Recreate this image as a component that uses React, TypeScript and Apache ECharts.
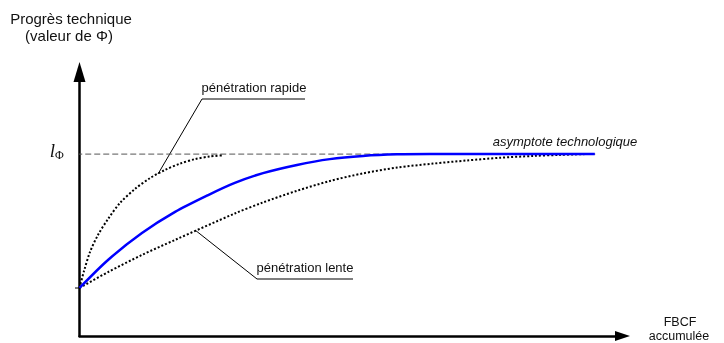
import React, { useEffect, useRef } from 'react';
import * as echarts from 'echarts';

// Conceptual diagram: x = accumulated FBCF (0..100), y = technical progress (0..100)
const referenceCurve: [number, number][] = [
  [0, 18.2], [5.25, 28.8], [11.5, 39.0], [17.6, 47.0], [23.7, 53.4], [28.6, 58.0],
  [33.8, 61.7], [40.05, 64.8], [46.1, 67.0], [52.2, 68.2], [58.5, 68.8], [64.5, 68.9], [94.9, 68.9],
];
const fastCurve: [number, number][] = [
  [0, 18.2], [0.83, 24.6], [1.93, 31.8], [3.41, 38.3], [5.25, 44.3], [7.46, 50.4],
  [10.22, 55.7], [12.98, 59.8], [15.75, 62.9], [18.51, 65.3], [21.27, 67.0], [24.03, 68.0], [26.24, 68.4],
];
const slowCurve: [number, number][] = [
  [0, 18.2], [5.25, 24.2], [11.5, 30.7], [17.6, 36.4], [28.6, 46.4], [33.8, 50.6],
  [40.05, 55.0], [46.1, 58.7], [52.2, 61.6], [58.5, 63.8], [65.1, 65.3], [71.4, 66.5],
  [77.4, 67.5], [83.5, 68.2], [88.5, 68.6], [93.1, 68.9],
];
const asymptoteLevel = 68.9;
const asymptoteSpan = [-0.6, 95.5];
const xRange = [0, 100];
const yRange = [0, 100];
const yTitle = ['Progrès technique', '(valeur de Φ)'];
const xTitle = ['FBCF', 'accumulée'];
const rapidLabel = 'pénétration rapide';
const slowLabel = 'pénétration lente';
const asymptoteLabel = 'asymptote technologique';
const limitSymbol = 'l';
const limitSub = 'Φ';

export default function App() {
  const ref = useRef<HTMLDivElement>(null);
  useEffect(() => {
    const chart = echarts.init(ref.current!, null, { renderer: 'svg' });
    const sans = '"Liberation Sans", Arial, sans-serif';
    const serif = '"Liberation Serif", "Times New Roman", serif';
    const axisCommon = {
      type: 'value',
      axisTick: { show: false },
      axisLabel: { show: false },
      splitLine: { show: false },
    };
    const curve = (data: [number, number][], lineStyle: any, z: number) => ({
      type: 'line',
      data,
      smooth: 0.3,
      symbol: 'none',
      silent: true,
      lineStyle,
      z,
    });
    chart.setOption({
      animation: false,
      grid: { left: 79.5, right: 101.5, top: 72, bottom: 7, containLabel: false },
      xAxis: {
        ...axisCommon,
        min: xRange[0],
        max: xRange[1],
        axisLine: {
          show: true,
          onZero: false,
          symbol: ['none', 'triangle'],
          symbolSize: [10, 15],
          lineStyle: { color: '#000', width: 2.5 },
        },
      },
      yAxis: {
        ...axisCommon,
        min: yRange[0],
        max: yRange[1],
        axisLine: {
          show: true,
          onZero: false,
          symbol: ['none', 'triangle'],
          symbolSize: [12, 20],
          lineStyle: { color: '#000', width: 2.5 },
        },
      },
      series: [
        {
          type: 'line',
          data: asymptoteSpan.map((x) => [x, asymptoteLevel]),
          symbol: 'none',
          clip: false,
          silent: true,
          lineStyle: { color: '#555', width: 1, type: [6, 3] },
          z: 1,
        },
        curve(slowCurve, { color: '#000', width: 2, type: [2, 2] }, 2),
        curve(fastCurve, { color: '#000', width: 2, type: [2, 2] }, 2),
        curve(referenceCurve, { color: '#0000ff', width: 2.5 }, 3),
      ],
      graphic: [
        { type: 'text', x: 71, y: 18, style: { text: yTitle[0], font: `15px ${sans}`, fill: '#111', align: 'center', verticalAlign: 'middle' } },
        { type: 'text', x: 69, y: 35, style: { text: yTitle[1], font: `15px ${sans}`, fill: '#111', align: 'center', verticalAlign: 'middle' } },
        { type: 'text', x: 680, y: 322, style: { text: xTitle[0], font: `12.5px ${sans}`, fill: '#111', align: 'center', verticalAlign: 'middle' } },
        { type: 'text', x: 679, y: 335.5, style: { text: xTitle[1], font: `12.5px ${sans}`, fill: '#111', align: 'center', verticalAlign: 'middle' } },
        { type: 'text', x: 55, y: 150, style: { text: limitSymbol, font: `italic 19px ${serif}`, fill: '#111', align: 'right', verticalAlign: 'middle' } },
        { type: 'text', x: 55, y: 155, style: { text: limitSub, font: `12px ${serif}`, fill: '#111', align: 'left', verticalAlign: 'middle' } },
        { type: 'line', shape: { x1: 75, y1: 288, x2: 79, y2: 288 }, style: { stroke: '#000', lineWidth: 1 } },
        { type: 'text', x: 565, y: 141, style: { text: asymptoteLabel, font: `italic 13px ${sans}`, fill: '#111', align: 'center', verticalAlign: 'middle' } },
        { type: 'text', x: 254, y: 87, style: { text: rapidLabel, font: `13px ${sans}`, fill: '#111', align: 'center', verticalAlign: 'middle' } },
        { type: 'line', shape: { x1: 202, y1: 99, x2: 305, y2: 99 }, style: { stroke: '#000', lineWidth: 1 } },
        { type: 'line', shape: { x1: 202, y1: 99, x2: 158, y2: 174 }, style: { stroke: '#000', lineWidth: 1 } },
        { type: 'text', x: 305, y: 267, style: { text: slowLabel, font: `13px ${sans}`, fill: '#111', align: 'center', verticalAlign: 'middle' } },
        { type: 'line', shape: { x1: 195, y1: 230, x2: 257, y2: 279 }, style: { stroke: '#000', lineWidth: 1 } },
        { type: 'line', shape: { x1: 257, y1: 279, x2: 353, y2: 279 }, style: { stroke: '#555', lineWidth: 1.5 } },
      ],
    });
    return () => chart.dispose();
  }, []);
  return <div ref={ref} style={{ position: 'fixed', left: 0, top: 0, width: 724, height: 343 }} />;
}
